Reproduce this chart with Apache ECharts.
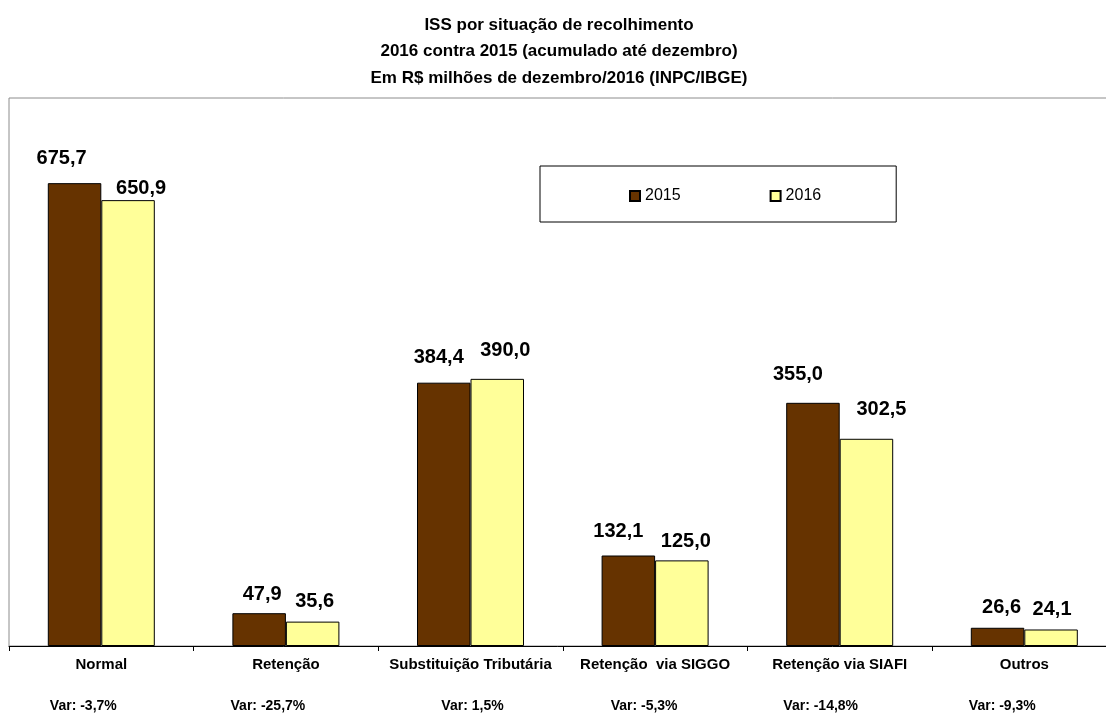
<!DOCTYPE html>
<html>
<head>
<meta charset="utf-8">
<script src="https://cdn.jsdelivr.net/npm/echarts@6/dist/echarts.min.js"></script>
<style>html,body{margin:0;padding:0;background:#fff}#c{width:1106px;height:714px}</style>
</head>
<body>
<div id="c"></div>
<script>
const categories = ['Normal', 'Retenção', 'Substituição Tributária', 'Retenção  via SIGGO', 'Retenção via SIAFI', 'Outros'];
const values2015 = [675.7, 47.9, 384.4, 132.1, 355.0, 26.6];
const values2016 = [650.9, 35.6, 390.0, 125.0, 302.5, 24.1];
const varLabels = ['Var: -3,7%', 'Var: -25,7%', 'Var: 1,5%', 'Var: -5,3%', 'Var: -14,8%', 'Var: -9,3%'];

// label nudges (layout only)
const labelOffsets2015 = [[-13, -10], [3, -4], [-5, -10], [-10, -9], [-15, -13], [4, -5]];
const labelOffsets2016 = [[13, 3], [2, -5], [8, -13], [4, -4], [15, -14], [1, -5]];
const varShift = [18, 18, -2, 11, 19, 22];

const FONT = '"Liberation Sans", Arial, sans-serif';
const chart = echarts.init(document.getElementById('c'));

function fmt(v) { return v.toFixed(1).replace('.', ','); }
function withLabels(vals, offs) {
  return vals.map((v, i) => ({ value: v, label: { offset: offs[i] } }));
}

chart.setOption({
  animation: false,
  backgroundColor: '#fff',
  title: {
    text: 'ISS por situação de recolhimento\n2016 contra 2015 (acumulado até dezembro)\nEm R$ milhões de dezembro/2016 (INPC/IBGE)',
    left: 554, textAlign: 'center', top: 7,
    textStyle: { fontFamily: FONT, fontSize: 17, fontWeight: 'bold', color: '#000', lineHeight: 26.5 }
  },
  legend: {
    left: 540, top: 166,
    padding: [22, 75, 18, 89],
    itemGap: 89, itemWidth: 10, itemHeight: 10, icon: 'rect',
    borderColor: '#000', borderWidth: 1, backgroundColor: '#fff',
    textStyle: { fontFamily: FONT, fontSize: 16, color: '#000' },
    data: ['2015', '2016']
  },
  grid: {
    left: 9, top: 98, width: 1107.6, height: 548,
    outerBoundsMode: 'none', containLabel: false,
    show: true, borderColor: '#8c8c8c', borderWidth: 1, backgroundColor: 'transparent'
  },
  xAxis: [{
    type: 'category', data: categories,
    axisLine: { lineStyle: { color: '#000', width: 1 } },
    axisTick: { show: true, length: 5, lineStyle: { color: '#000', width: 1 } },
    axisLabel: { margin: 11, interval: 0, fontFamily: FONT, fontSize: 15, fontWeight: 'bold', color: '#000' }
  }, {
    type: 'category', position: 'bottom',
    data: varLabels.map((t, i) => ({ value: t, textStyle: { padding: varShift[i] >= 0 ? [0, 2 * varShift[i], 0, 0] : [0, 0, 0, -2 * varShift[i]] } })),
    axisLine: { show: false }, axisTick: { show: false },
    axisLabel: { margin: 53, interval: 0, fontFamily: FONT, fontSize: 14, fontWeight: 'bold', color: '#000' }
  }],
  yAxis: { type: 'value', min: 0, max: 800, show: false, splitLine: { show: false } },
  series: [{
    name: '2015', type: 'bar', xAxisIndex: 0, data: withLabels(values2015, labelOffsets2015),
    barWidth: 53.5, barGap: '0%',
    itemStyle: { color: '#663300', borderColor: '#000', borderWidth: 1 },
    label: { show: true, position: 'top', distance: 5, formatter: p => fmt(p.value), fontFamily: FONT, fontSize: 20, fontWeight: 'bold', color: '#000' }
  }, {
    name: '2016', type: 'bar', xAxisIndex: 0, data: withLabels(values2016, labelOffsets2016),
    barWidth: 53.5, barGap: '0%',
    itemStyle: { color: '#FFFF99', borderColor: '#000', borderWidth: 1 },
    label: { show: true, position: 'top', distance: 5, formatter: p => fmt(p.value), fontFamily: FONT, fontSize: 20, fontWeight: 'bold', color: '#000' }
  }]
});
</script>
</body>
</html>
